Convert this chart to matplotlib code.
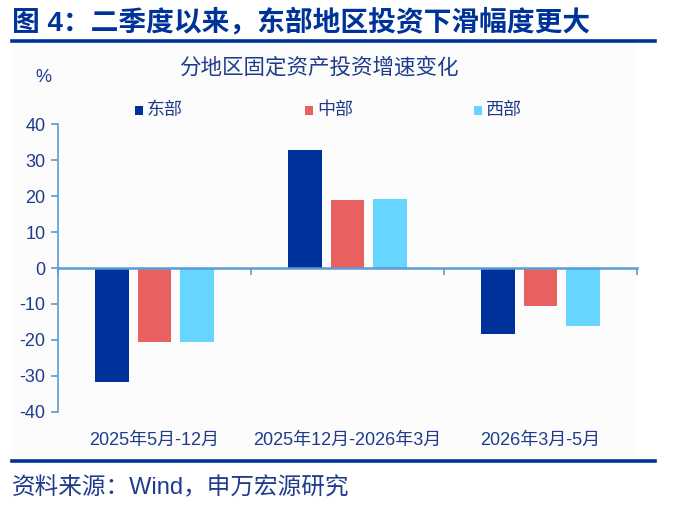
import matplotlib
matplotlib.use("Agg")
import matplotlib.pyplot as plt
import matplotlib.transforms as mtransforms
import numpy as np

plt.rcParams['font.family'] = ['Liberation Sans', 'Noto Sans CJK SC', 'DejaVu Sans']

categories = ["2025年5月-12月", "2025年12月-2026年3月", "2026年3月-5月"]
series_names = ["东部", "中部", "西部"]
east = [-31.8, 33.0, -18.3]
central = [-20.6, 18.9, -10.6]
west = [-20.6, 19.3, -16.0]
yticks = [-40, -30, -20, -10, 0, 10, 20, 30, 40]

colors = ["#00309A", "#E86060", "#66D5FF"]
txt = "#1F3C8C"
axc = "#5B9BD5"

W, H = 674, 505
fig = plt.figure(figsize=(W/100, H/100), dpi=100)
fig.patch.set_facecolor("white")

def fx(px):
    return px / W

def fy(py):
    return 1 - py / H

# chart background panel
bg = plt.Rectangle((fx(12), fy(456)), (636-12)/W, (456-43)/H,
                   transform=fig.transFigure, facecolor="#FCFCFC",
                   edgecolor="none", zorder=0)
fig.patches.append(bg)

ax = fig.add_axes([fx(58), fy(411.7), 579/W, 287.2/H])
ax.set_facecolor("none")
ax.set_zorder(2)

x = np.arange(len(categories))
off = 0.221
w = 0.176
for i, (vals, c, n) in enumerate(zip([east, central, west], colors, series_names)):
    ax.bar(x + (i-1)*off, vals, width=w, color=c, label=n, zorder=2)

ax.set_xlim(-0.5, 2.5)
ax.set_ylim(-40, 40)
ax.set_yticks(yticks)
ax.set_yticklabels([str(t) for t in yticks])
ax.tick_params(axis='y', colors=axc, labelcolor=txt, labelsize=13, length=5, width=1.2, pad=4)
ax.spines['top'].set_visible(False)
ax.spines['right'].set_visible(False)
ax.spines['left'].set_color(axc)
ax.spines['left'].set_linewidth(1.2)
ax.spines['bottom'].set_position(('data', 0))
ax.spines['bottom'].set_color(axc)
ax.spines['bottom'].set_linewidth(1.8)
ax.spines['bottom'].set_zorder(3)
ax.set_xticks([-0.5, 0.5, 1.5, 2.5])
ax.set_xticklabels([])
ax.tick_params(axis='x', colors=axc, length=5, width=1.2, direction='out')

trans = mtransforms.blended_transform_factory(ax.transData, fig.transFigure)
for xi, lab in zip(x, categories):
    ax.text(xi, fy(440), lab, transform=trans, ha='center', va='center',
            fontsize=13, color=txt)

# legend
for xp, c, n in zip([135, 305, 474], colors, series_names):
    fig.patches.append(plt.Rectangle((fx(xp), fy(115)), 8/W, 9/H,
                                     transform=fig.transFigure, facecolor=c, edgecolor='none'))
    fig.text(fx(xp+12), fy(110), n, fontsize=13, color=txt, ha='left', va='center')

fig.text(fx(318.5), fy(68), "分地区固定资产投资增速变化", fontsize=15.5, color=txt,
         ha='center', va='center')
fig.text(fx(43), fy(78), "%", fontsize=13, color=txt, ha='center', va='center')

# title
fig.text(fx(12), fy(23), "图 4：二季度以来，东部地区投资下滑幅度更大", fontsize=20,
         fontweight='bold', color="#003399", ha='left', va='center')
fig.add_artist(plt.Line2D([fx(12), fx(655)], [fy(41), fy(41)], color="#003399",
                          lw=2.6, transform=fig.transFigure))
fig.add_artist(plt.Line2D([fx(12), fx(655)], [fy(460.7), fy(460.7)], color="#003399",
                          lw=2.6, transform=fig.transFigure))
fig.text(fx(12), fy(488), "资料来源：Wind，申万宏源研究", fontsize=17, color="#1F3C8C",
         ha='left', va='center')

fig.savefig("out.png", dpi=100, facecolor="white")
